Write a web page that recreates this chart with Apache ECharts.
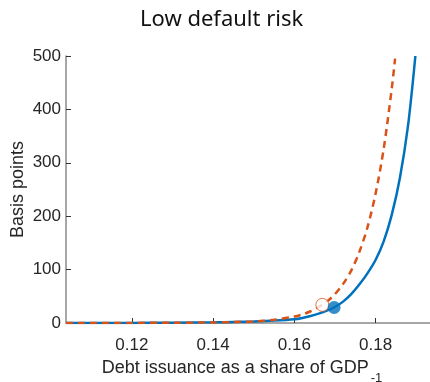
<!DOCTYPE html>
<html>
<head>
<meta charset="utf-8">
<script src="https://cdn.jsdelivr.net/npm/echarts@6/dist/echarts.min.js"></script>
<style>
  html, body { margin: 0; padding: 0; background: #fff; }
  #chart { width: 430px; height: 382px; }
</style>
</head>
<body>
<div id="chart"></div>
<script>
// Spread (basis points) against debt issuance as a share of lagged GDP
const issuanceBase = [0.1038, 0.12, 0.13, 0.14, 0.145, 0.15, 0.155, 0.16, 0.162, 0.164, 0.166, 0.168, 0.170, 0.172, 0.174, 0.176, 0.178, 0.180, 0.182, 0.184, 0.186, 0.188, 0.1898];
const spreadBase   = [0, 0.2, 0.5, 1.2, 2, 3, 4.5, 7, 9.5, 13, 17.5, 23, 30, 40, 54, 72, 93, 118, 153, 203, 272, 370, 500];

const issuanceAlt = [0.1038, 0.12, 0.13, 0.14, 0.145, 0.15, 0.155, 0.16, 0.162, 0.164, 0.166, 0.168, 0.170, 0.172, 0.174, 0.176, 0.178, 0.180, 0.182, 0.184, 0.1848];
const spreadAlt   = [0, 0.2, 0.5, 1, 1.8, 3, 6, 12, 16, 22, 30, 40, 54, 73, 98, 133, 179, 242, 326, 440, 495];

// Current positions on each curve
const pointBase = [0.1698, 29];
const pointAlt  = [0.1669, 34];

const xTickValues = [0.12, 0.14, 0.16, 0.18];
const yTickLabels = [0, 100, 200, 300, 400, 500];

const blue = '#0072BD';
const orange = '#D95319';
const axisGray = '#8a8a8a';
const textColor = '#262626';

const zip = (xs, ys) => xs.map((x, i) => [x, ys[i]]);

const chart = echarts.init(document.getElementById('chart'));
chart.setOption({
  animation: false,
  backgroundColor: '#fff',
  title: {
    text: 'Low default risk',
    left: 135,
    top: 4,
    textStyle: { fontFamily: 'Noto Sans', fontWeight: 'normal', fontSize: 22, color: '#111' }
  },
  grid: { left: 66, right: 0, top: 56, bottom: 59, containLabel: false, outerBoundsMode: 'none' },
  xAxis: {
    type: 'value',
    min: 0.1038,
    max: 0.1934,
    name: 'Debt issuance as a share of GDP{sub|-1}',
    nameLocation: 'middle',
    nameGap: 29,
    nameMoveOverlap: false,
    nameTextStyle: {
      fontFamily: 'Liberation Sans', fontSize: 18, color: textColor, padding: [0, 12, 0, 0],
      rich: { sub: { fontFamily: 'Liberation Sans', fontSize: 13, color: textColor, padding: [20, 0, 0, 2] } }
    },
    axisLine: { show: true, lineStyle: { color: axisGray, width: 1.5 } },
    axisTick: { show: true, inside: true, length: 5, customValues: xTickValues, lineStyle: { color: '#333', width: 1 } },
    axisLabel: {
      customValues: xTickValues, margin: 14,
      formatter: v => v.toFixed(2),
      fontFamily: 'Liberation Sans', fontSize: 17, color: textColor
    },
    splitLine: { show: false }
  },
  yAxis: {
    type: 'value',
    min: 0,
    max: 500,
    interval: 100,
    name: 'Basis points',
    nameLocation: 'middle',
    nameGap: 39,
    nameMoveOverlap: false,
    nameTextStyle: { fontFamily: 'Liberation Sans', fontSize: 18, color: textColor },
    axisLine: { show: true, lineStyle: { color: axisGray, width: 1.5 } },
    axisTick: { show: true, inside: true, length: 5, customValues: yTickLabels, lineStyle: { color: '#333', width: 1 } },
    axisLabel: { customValues: yTickLabels, margin: 5, fontFamily: 'Liberation Sans', fontSize: 17, color: textColor },
    splitLine: { show: false }
  },
  series: [
    {
      type: 'line',
      data: zip(issuanceBase, spreadBase),
      smooth: 0.3,
      showSymbol: false,
      lineStyle: { color: blue, width: 2.5 },
      z: 2
    },
    {
      type: 'line',
      data: zip(issuanceAlt, spreadAlt),
      smooth: 0.3,
      showSymbol: false,
      lineStyle: { color: orange, width: 2.5, type: [7, 5] },
      z: 3
    },
    {
      type: 'scatter',
      data: [pointAlt],
      symbol: 'circle',
      symbolSize: 13,
      itemStyle: { color: '#fff', borderColor: orange, borderWidth: 1 },
      z: 4
    },
    {
      type: 'scatter',
      data: [pointBase],
      symbol: 'circle',
      symbolSize: 13,
      itemStyle: { color: blue },
      z: 5
    }
  ]
});
</script>
</body>
</html>
